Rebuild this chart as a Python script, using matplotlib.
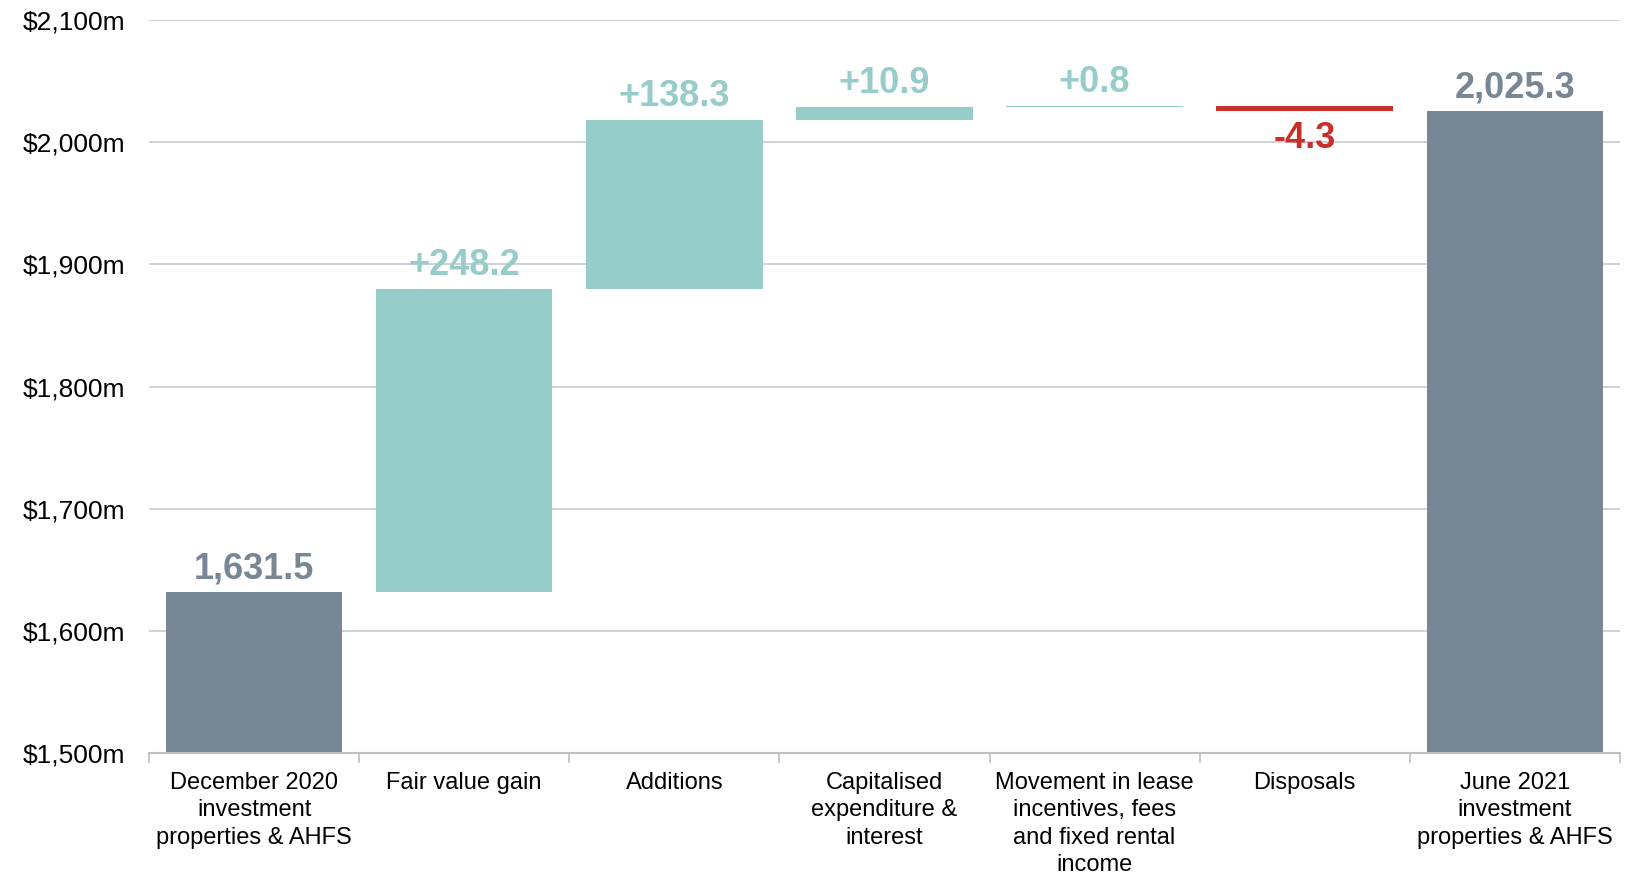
import matplotlib
matplotlib.use("Agg")
import matplotlib.pyplot as plt
import numpy as np
from matplotlib.ticker import FuncFormatter

plt.rcParams['font.family'] = ['Liberation Sans', 'DejaVu Sans']

categories = ["December 2020\ninvestment\nproperties & AHFS",
              "Fair value gain",
              "Additions",
              "Capitalised\nexpenditure &\ninterest",
              "Movement in lease\nincentives, fees\nand fixed rental\nincome",
              "Disposals",
              "June 2021\ninvestment\nproperties & AHFS"]
opening = 1631.5
changes = [248.2, 138.3, 10.9, 0.8, -4.3]
closing = 2025.3
labels = ["1,631.5", "+248.2", "+138.3", "+10.9", "+0.8", "-4.3", "2,025.3"]

GREY = "#778796"
TEAL = "#96ccc9"
RED = "#c8302a"

# waterfall geometry
levels = np.concatenate([[opening], opening + np.cumsum(changes)])
bottoms = [1500] + list(np.minimum(levels[:-1], levels[1:])) + [1500]
heights = [opening - 1500] + [abs(c) for c in changes] + [closing - 1500]
colors = [GREY] + [TEAL if c > 0 else RED for c in changes] + [GREY]

fig = plt.figure(figsize=(16.34, 8.75), dpi=100)
ax = fig.add_axes([0.0912, 0.1394, 0.9002, 0.8377])

x = np.arange(len(categories))
ax.bar(x, heights, bottom=bottoms, width=0.84, color=colors, zorder=3)

for i in range(len(x)):
    top = bottoms[i] + heights[i]
    if 0 < i < len(x) - 1 and changes[i - 1] < 0:
        ax.text(x[i], bottoms[i] - 8, labels[i], ha='center', va='top',
                fontsize=26, fontweight='bold', color=colors[i])
    else:
        ax.text(x[i], top + 5, labels[i], ha='center', va='bottom',
                fontsize=26, fontweight='bold', color=colors[i])

ax.set_ylim(1500, 2100)
ax.set_xlim(-0.5, len(categories) - 0.5)
ax.set_yticks(np.arange(1500, 2101, 100))
ax.yaxis.set_major_formatter(FuncFormatter(lambda v, p: "${:,.0f}m".format(v)))
ax.tick_params(axis='y', length=0, pad=17, labelsize=19)

ax.set_xticks(x)
ax.set_xticklabels(categories, fontsize=17, linespacing=1.32)
ax.tick_params(axis='x', which='major', length=0, pad=13.5)
ax.set_xticks(np.arange(-0.5, len(categories), 1), minor=True)
ax.tick_params(axis='x', which='minor', length=7, color='#bfbfbf', width=1.2)

ax.grid(axis='y', color='#c9cfd5', linewidth=1.3, zorder=0)
for s in ['top', 'right', 'left']:
    ax.spines[s].set_visible(False)
ax.spines['bottom'].set_color('#bfbfbf')
ax.spines['bottom'].set_linewidth(1.5)
ax.spines['bottom'].set_zorder(4)

fig.savefig("out.png", dpi=100)
